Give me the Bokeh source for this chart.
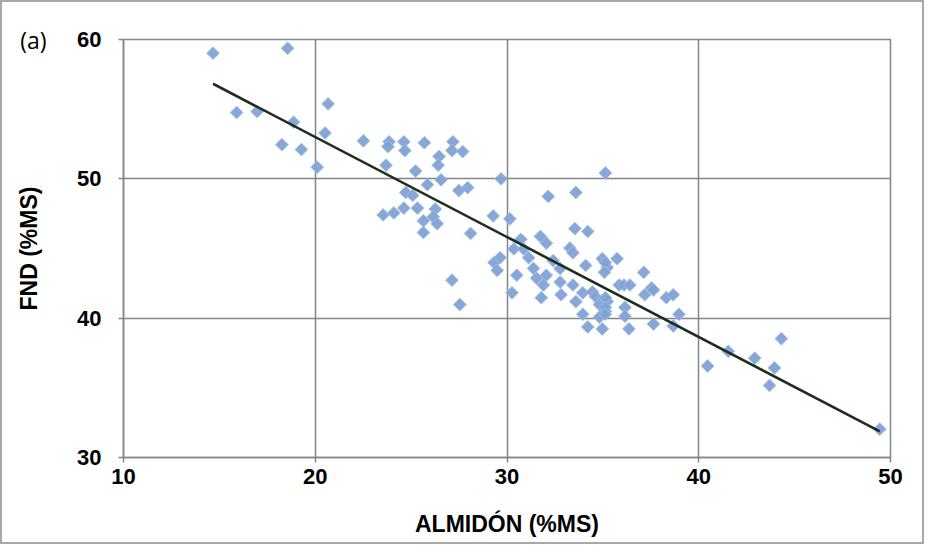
import numpy as np
from bokeh.plotting import figure
from bokeh.models import FixedTicker, ColumnDataSource, LinearAxis
from bokeh.embed import file_html
from bokeh.resources import INLINE

# ---- data ----
almidon = [14.67, 18.56, 15.90, 16.97, 18.87, 18.26, 19.28, 20.10, 20.67, 20.51,
           22.51, 23.85, 23.79, 24.62, 24.67, 25.69, 27.18, 27.13, 27.69, 26.46,
           26.41, 23.69, 25.23, 26.56, 25.85, 24.72, 25.08, 27.49, 27.95, 23.54,
           24.10, 24.62, 25.33, 26.26, 26.15, 26.36, 25.64, 25.64, 28.10, 29.28,
           30.15, 29.69, 27.13, 27.54, 30.36, 29.33, 29.49, 29.64, 30.51, 30.26,
           30.72, 30.87,
           35.13, 32.15, 33.59, 33.54, 34.21, 31.74, 32.05, 33.28, 33.44, 34.97,
           35.23, 35.74, 31.38, 32.05, 32.77, 34.10, 31.90, 32.77, 33.44, 35.85,
           31.79, 31.54, 33.59, 33.95, 34.46, 34.62, 34.82, 35.13, 34.82, 34.97,
           34.21, 35.23, 35.13, 35.08, 37.13, 36.10, 36.41, 37.54, 37.18, 38.31,
           38.67, 35.13, 35.13, 35.13, 36.15, 36.15, 36.36, 37.64, 38.67, 38.97,
           37.64, 31.13, 32.41, 32.82, 33.95,
           40.46, 41.54, 42.92, 43.95, 43.69, 44.31, 49.44]
fnd = [59.02, 59.37, 54.76, 54.83, 54.06, 52.45, 52.10, 50.84, 55.38, 53.29,
       52.73, 52.66, 52.31, 52.66, 52.03, 52.59, 52.66, 52.03, 51.96, 51.61,
       50.98, 50.98, 50.56, 49.93, 49.58, 49.02, 48.81, 49.16, 49.37, 47.41,
       47.55, 47.90, 47.90, 47.83, 47.27, 46.78, 46.99, 46.15, 46.08, 47.34,
       47.13, 50.00, 42.73, 40.98, 44.97, 43.99, 43.43, 44.34, 43.08, 41.82,
       45.66, 44.97,
       50.42, 48.74, 49.02, 46.43, 46.22, 45.87, 45.38, 45.03, 44.69, 44.27,
       43.64, 44.27, 43.57, 43.08, 43.57, 43.78, 42.38, 42.59, 42.38, 42.38,
       41.47, 42.87, 41.19, 41.82, 41.89, 41.54, 40.98, 40.49, 40.07, 39.23,
       39.37, 41.19, 43.99, 43.29, 43.29, 42.38, 42.38, 42.17, 41.68, 41.47,
       41.68, 41.47, 40.77, 40.28, 40.77, 40.14, 39.23, 39.58, 39.44, 40.28,
       42.03, 44.34, 44.13, 41.68, 40.28,
       36.57, 37.62, 37.13, 36.43, 35.17, 38.53, 32.03]

trend_slope = -0.7176
trend_intercept = 67.35

x_ticks = [10, 20, 30, 40, 50]
y_ticks = [30, 40, 50, 60]
panel_tag = "(a)"

# ---- figure ----
grid_col = "#858585"
p = figure(width=924, height=544, x_range=(10, 50), y_range=(30, 60),
           output_backend="svg", toolbar_location=None,
           min_border_left=121, min_border_right=36,
           min_border_top=37, min_border_bottom=89,
           background_fill_color="white", border_fill_color="white")
p.styles = {"border": "2px solid #a8a8a8", "box-sizing": "border-box"}

p.xaxis.ticker = FixedTicker(ticks=x_ticks)
p.yaxis.ticker = FixedTicker(ticks=y_ticks)
for ax in (p.xaxis[0], p.yaxis[0]):
    ax.axis_line_color = grid_col
    ax.axis_line_width = 1.5
    ax.major_tick_line_color = grid_col
    ax.major_tick_line_width = 1.5
    ax.major_tick_out = 5
    ax.major_tick_in = 0
    ax.minor_tick_line_color = None
    ax.major_label_text_font = "Liberation Sans"
    ax.major_label_text_font_style = "bold"
    ax.major_label_text_font_size = "22px"
    ax.major_label_text_color = "black"
    ax.axis_label_text_font = "Liberation Sans"
    ax.axis_label_text_font_style = "bold"
    ax.axis_label_text_font_size = "23px"
    ax.axis_label_text_color = "black"
p.xaxis.axis_label = "ALMIDÓN (%MS)"
p.yaxis.axis_label = "FND (%MS)"
p.xaxis.major_label_standoff = 6
p.xaxis.axis_label_standoff = 24
p.yaxis.major_label_standoff = 17
p.yaxis.axis_label_standoff = 32

# outer helper axis carrying only the panel tag "(a)" next to the 60 tick
tag_axis = LinearAxis(ticker=FixedTicker(ticks=[y_ticks[-1]]),
                      major_label_overrides={y_ticks[-1]: panel_tag},
                      axis_line_color=None, major_tick_line_color=None,
                      minor_tick_line_color=None, major_tick_out=0, major_tick_in=0,
                      major_label_standoff=-33,
                      major_label_text_font="Open Sans",
                      major_label_text_font_size="23px",
                      major_label_text_color="black")
p.add_layout(tag_axis, "left")

p.xgrid.grid_line_color = grid_col
p.ygrid.grid_line_color = grid_col
p.xgrid.grid_line_width = 1.5
p.ygrid.grid_line_width = 1.5
p.outline_line_color = grid_col
p.outline_line_width = 1.5

src = ColumnDataSource(dict(x=almidon, y=fnd))
p.scatter("x", "y", source=src, marker="square", angle=np.pi / 4, size=9,
          fill_color="#7fa2d6", line_color="#a3bde3", line_width=1, fill_alpha=0.95)

xs = np.array([min(almidon), max(almidon)])
p.line(xs, trend_slope * xs + trend_intercept, line_color="#1c2e1c", line_width=2.6)

open("out.html", "w").write(file_html(p, INLINE))
